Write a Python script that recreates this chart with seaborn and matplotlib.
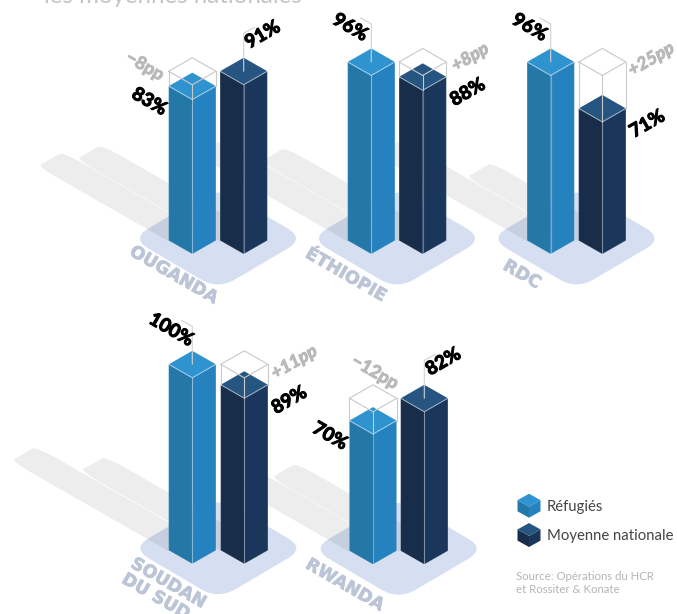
import matplotlib
matplotlib.use("Agg")
import matplotlib.pyplot as plt
import matplotlib.patheffects as pe
from matplotlib.patches import Polygon, PathPatch
from matplotlib.path import Path
import seaborn as sns

countries = ["OUGANDA", "ÉTHIOPIE", "RDC", "SOUDAN\nDU SUD", "RWANDA"]
refugees = [83, 96, 96, 100, 70]
national = [91, 88, 71, 89, 82]
gaps = ["−8pp", "+8pp", "+25pp", "+11pp", "−12pp"]
legend_labels = ["Réfugiés", "Moyenne nationale"]

# layout (pixels): bar anchors per country
c1 = [192.3, 371.3, 550.7, 192.3, 373.0]
c2 = [243.7, 422.7, 602.3, 244.3, 424.3]
base = [254, 254, 254, 563.8, 564.3]
gap_xy = [(145, 66), (470, 57), (651, 59), (294, 362), (375, 372)]
name_xy = [(174, 275), (346, 275), (522, 274.5), (164, 591), (345, 585)]

HW, HH = 23.6, 13.5
PX = 1.86
SH = 1.57

C_REF = ("#2478a8", "#2682bf", "#2f93cf")
C_NAT = ("#182d49", "#1a365a", "#265581")
GHOST = "#c9c9c9"

sns.set_theme(style="white")
fig = plt.figure(figsize=(6.77, 6.14), dpi=100, facecolor="white")
ax = fig.add_axes([0, 0, 1, 1])
ax.set_xlim(0, 677)
ax.set_ylim(614, 0)
ax.axis("off")


def rounded(pts, t, **kw):
    n = len(pts)
    verts, codes = [], []
    for i, p in enumerate(pts):
        prev, nxt = pts[i - 1], pts[(i + 1) % n]
        tp = t[i] if isinstance(t, (list, tuple)) else t
        a = (p[0] + (prev[0] - p[0]) * tp, p[1] + (prev[1] - p[1]) * tp)
        b = (p[0] + (nxt[0] - p[0]) * tp, p[1] + (nxt[1] - p[1]) * tp)
        verts += [a, p, b]
        codes += [Path.MOVETO if i == 0 else Path.LINETO, Path.CURVE3, Path.CURVE3]
    verts.append(verts[0])
    codes.append(Path.CLOSEPOLY)
    ax.add_patch(PathPatch(Path(verts, codes), ec="none", **kw))


def floor(cx, cy, w=86.7, h=51):
    rounded([(cx - w, cy), (cx, cy - h), (cx + w, cy), (cx, cy + h)], 0.2,
            fc="#d6dff1", zorder=1)


def shadow(c, b, v):
    w, h = HW + 1.6, HH + 0.9
    x0, y0 = c - HW - 0.8, b - HH + 0.45
    dx, dy = v * SH, v * SH * HH / HW
    pts = [(x0, y0), (x0 - dx, y0 - dy), (x0 - dx + w, y0 - dy - h), (x0 + w, y0 - h)]
    rounded(pts, [0.0, 0.14, 0.14, 0.0], fc=(0, 0, 0, 0.07), zorder=2)


def box(c, b, v, cols, z=3, hw=HW, hh=HH, px=PX, edge=True):
    top = b - v * px
    ax.add_patch(Polygon([(c - hw, b - hh), (c, b), (c, top), (c - hw, top - hh)],
                         fc=cols[0], ec="none", zorder=z))
    ax.add_patch(Polygon([(c + hw, b - hh), (c, b), (c, top), (c + hw, top - hh)],
                         fc=cols[1], ec="none", zorder=z))
    ax.add_patch(Polygon([(c - hw, top - hh), (c, top), (c + hw, top - hh), (c, top - 2 * hh)],
                         fc=cols[2], ec="none", zorder=z))
    if edge:
        ax.plot([c, c], [b, top], color=(1, 1, 1, 0.33), lw=0.8, zorder=z + 0.1)
        ax.plot([c - hw, c, c + hw], [top - hh, top, top - hh], color=(1, 1, 1, 0.45),
                lw=0.8, zorder=z + 0.1)
        ax.plot([c - hw, c - hw, c, c + hw, c + hw],
                [top - hh, b - hh, b, b - hh, top - hh], color=(1, 1, 1, 0.12),
                lw=0.6, zorder=z + 0.1)


def ghost(c, b, v, other):
    top = b - other * PX
    low = b - v * PX
    ax.plot([c - HW, c, c + HW, c, c - HW], [top - HH, top, top - HH, top - 2 * HH, top - HH],
            color=GHOST, lw=0.8, zorder=4)
    ax.plot([c, c], [top, low], color=GHOST, lw=0.8, zorder=4)
    ax.plot([c - HW, c - HW], [top - HH, low - HH], color=GHOST, lw=0.8, zorder=4)
    ax.plot([c + HW, c + HW], [top - HH, low - HH], color=GHOST, lw=0.8, zorder=4)


def flag(c, b, v, side):
    y = b - v * PX - HH
    ax.plot([c, c, c + side * 11], [y, y - 38, y - 44], color="#d2d2d2", lw=0.8, zorder=4)


def value_label(c, b, v, dx, dy, rot, size=13.5):
    t = ax.text(c + dx, b - v * PX + dy, f"{v}%", rotation=rot, rotation_mode="anchor",
                ha="center", va="center", fontsize=size, fontweight="bold", color="black",
                family="Lato", zorder=6)
    t.set_path_effects([pe.withStroke(linewidth=0.8, foreground="black")])


for i, name in enumerate(countries):
    floor((c1[i] + c2[i]) / 2, base[i] - 15.5)
for i, name in enumerate(countries):
    shadow(c1[i], base[i], refugees[i])
    shadow(c2[i], base[i], national[i])

for i, name in enumerate(countries):
    r, n, b = refugees[i], national[i], base[i]
    box(c1[i], b, r, C_REF)
    box(c2[i], b, n, C_NAT)
    if r < n:
        ghost(c1[i], b, r, n)
        flag(c2[i], b, n, 1)
        value_label(c1[i], b, r, -43, 2, -30)
        value_label(c2[i], b, n, 19, -50, 30)
    else:
        ghost(c2[i], b, n, r)
        flag(c1[i], b, r, -1)
        value_label(c1[i], b, r, -21, -48, -30)
        value_label(c2[i], b, n, 45, 2, 30)
    rot = -30 if r < n else 30
    t = ax.text(*gap_xy[i], gaps[i], rotation=rot, rotation_mode="anchor", ha="center",
                va="center", fontsize=12.8, fontweight="bold", color="#b9b9b9", family="Lato",
                style="normal" if r < n else "italic", zorder=6)
    t.set_path_effects([pe.withStroke(linewidth=0.7, foreground="#b9b9b9")])
    t = ax.text(*name_xy[i], name, rotation=-30, rotation_mode="anchor", ha="center",
                va="center", ma="left", fontsize=12.5, fontweight="bold", color="#bcc5d6",
                family="DejaVu Sans", linespacing=1.0, zorder=6)
    t.set_path_effects([pe.withStroke(linewidth=0.5, foreground="#bcc5d6")])

ax.text(44, 3, "les moyennes nationales", fontsize=17.4, color="#c4c4c4", family="Lato",
        va="baseline", ha="left", clip_on=False)

# legend
for col, top_y, lab, ty in zip((C_REF, C_NAT), (517.7, 547.0), legend_labels, (507, 536.3)):
    box(529, top_y, 6, col, hw=11.5, hh=6.4, px=PX, edge=False)
    ax.text(546.7, ty, lab, fontsize=10.7, color="#444444", family="Lato",
            va="center", ha="left")
ax.text(516, 576.5, "Source: Opérations du HCR", fontsize=8.2, color="#b5b5b5", family="Lato",
        va="center", ha="left")
ax.text(516, 589.5, "et Rossiter & Konate", fontsize=8.2, color="#b5b5b5", family="Lato",
        va="center", ha="left")

fig.savefig("out.png", dpi=100)
